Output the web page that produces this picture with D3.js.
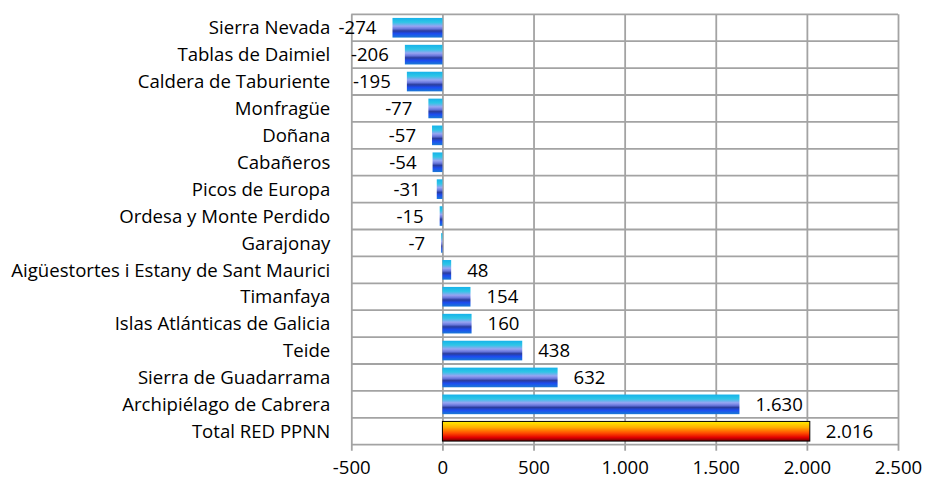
<!DOCTYPE html>
<html>
<head>
<meta charset="utf-8">
<script src="https://cdn.jsdelivr.net/npm/d3@7"></script>
<style>
  body { margin: 0; background: #fff; }
  text { font-family: "Open Sans", Lato, sans-serif; font-size: 18.6px; fill: #000; }
</style>
</head>
<body>
<div id="chart"></div>
<script>
let width = 927,
    height = 481,
    margin = {top: 14.3, right: 29, bottom: 36.3, left: 351.3};

// data, top to bottom
let parks = ["Sierra Nevada", "Tablas de Daimiel", "Caldera de Taburiente", "Monfragüe", "Doñana",
    "Cabañeros", "Picos de Europa", "Ordesa y Monte Perdido", "Garajonay",
    "Aigüestortes i Estany de Sant Maurici", "Timanfaya", "Islas Atlánticas de Galicia", "Teide",
    "Sierra de Guadarrama", "Archipiélago de Cabrera", "Total RED PPNN"];
let values = [-274, -206, -195, -77, -57, -54, -31, -15, -7, 48, 154, 160, 438, 632, 1630, 2016];
let xTicks = [-500, 0, 500, 1000, 1500, 2000, 2500];

let data = parks.map(function(d, i) { return {name: d, value: values[i]}; });

let locale = d3.formatLocale({decimal: ",", thousands: ".", grouping: [3], currency: ["", "€"], minus: "-"});
let fmt = locale.format(",d");

let w = width - margin.left - margin.right,
    h = height - margin.top - margin.bottom;

let x = d3.scaleLinear()
    .domain([-500, 2500])
    .range([0, w]);

let y = d3.scaleBand()
    .domain(parks)
    .range([0, h])
    .paddingInner(0.27)
    .paddingOuter(0.135);

let svg = d3.select("#chart").append("svg")
    .attr("width", width)
    .attr("height", height);

let defs = svg.append("defs");

let blue = defs.append("linearGradient")
    .attr("id", "blueGrad")
    .attr("x1", 0).attr("y1", 0).attr("x2", 0).attr("y2", 1);
[[0, "#16b2ea"], [0.22, "#2ec6e6"], [0.42, "#98a4f2"], [0.55, "#6a78dc"], [0.66, "#2a3c9e"],
 [0.8, "#1c4cf0"], [1, "#1a7ad6"]].forEach(function(s) {
    blue.append("stop").attr("offset", s[0]).attr("stop-color", s[1]);
});

let red = defs.append("linearGradient")
    .attr("id", "redGrad")
    .attr("x1", 0).attr("y1", 0).attr("x2", 0).attr("y2", 1);
[[0, "#ffee00"], [0.3, "#ffb000"], [0.6, "#ff4a00"], [0.82, "#e00000"], [1, "#700000"]].forEach(function(s) {
    red.append("stop").attr("offset", s[0]).attr("stop-color", s[1]);
});

let g = svg.append("g")
    .attr("transform", "translate(" + margin.left + "," + margin.top + ")");

let gridColor = "#a3a3a3";

// horizontal band lines
let step = h / parks.length;
g.selectAll(".hline")
    .data(d3.range(parks.length + 1))
    .enter().append("line")
    .attr("x1", 0)
    .attr("x2", w)
    .attr("y1", function(d) { return d * step; })
    .attr("y2", function(d) { return d * step; })
    .attr("stroke", gridColor)
    .attr("stroke-width", 1.8);

// x axis with full-height gridlines
let xAxis = d3.axisBottom(x)
    .tickValues(xTicks)
    .tickFormat(fmt)
    .tickSize(h + 6)
    .tickPadding(10);

g.append("g")
    .attr("class", "x axis")
    .call(xAxis)
    .call(function(s) {
        s.select(".domain").remove();
        s.selectAll(".tick line").attr("stroke", gridColor).attr("stroke-width", 1.8);
        s.selectAll(".tick text").attr("font-size", 18.6).attr("font-family", "'Open Sans', sans-serif");
    });

// bars
g.selectAll(".bar")
    .data(data)
    .enter().append("rect")
    .attr("class", "bar")
    .attr("x", function(d) { return x(Math.min(0, d.value)); })
    .attr("y", function(d) { return y(d.name); })
    .attr("width", function(d) { return Math.abs(x(d.value) - x(0)); })
    .attr("height", y.bandwidth())
    .attr("fill", function(d, i) { return i === data.length - 1 ? "url(#redGrad)" : "url(#blueGrad)"; })
    .attr("stroke", function(d, i) { return i === data.length - 1 ? "#000" : "none"; })
    .attr("stroke-width", 1);

// value labels
g.selectAll(".val")
    .data(data)
    .enter().append("text")
    .attr("class", "val")
    .attr("x", function(d) { return d.value < 0 ? x(d.value) - 16 : x(d.value) + 16; })
    .attr("y", function(d) { return y(d.name) + y.bandwidth() / 2; })
    .attr("dy", ".36em")
    .attr("text-anchor", function(d) { return d.value < 0 ? "end" : "start"; })
    .text(function(d) { return fmt(d.value); });

// category labels
g.selectAll(".cat")
    .data(data)
    .enter().append("text")
    .attr("class", "cat")
    .attr("x", -21)
    .attr("y", function(d) { return y(d.name) + y.bandwidth() / 2; })
    .attr("dy", ".36em")
    .attr("text-anchor", "end")
    .text(function(d) { return d.name; });
</script>
</body>
</html>
